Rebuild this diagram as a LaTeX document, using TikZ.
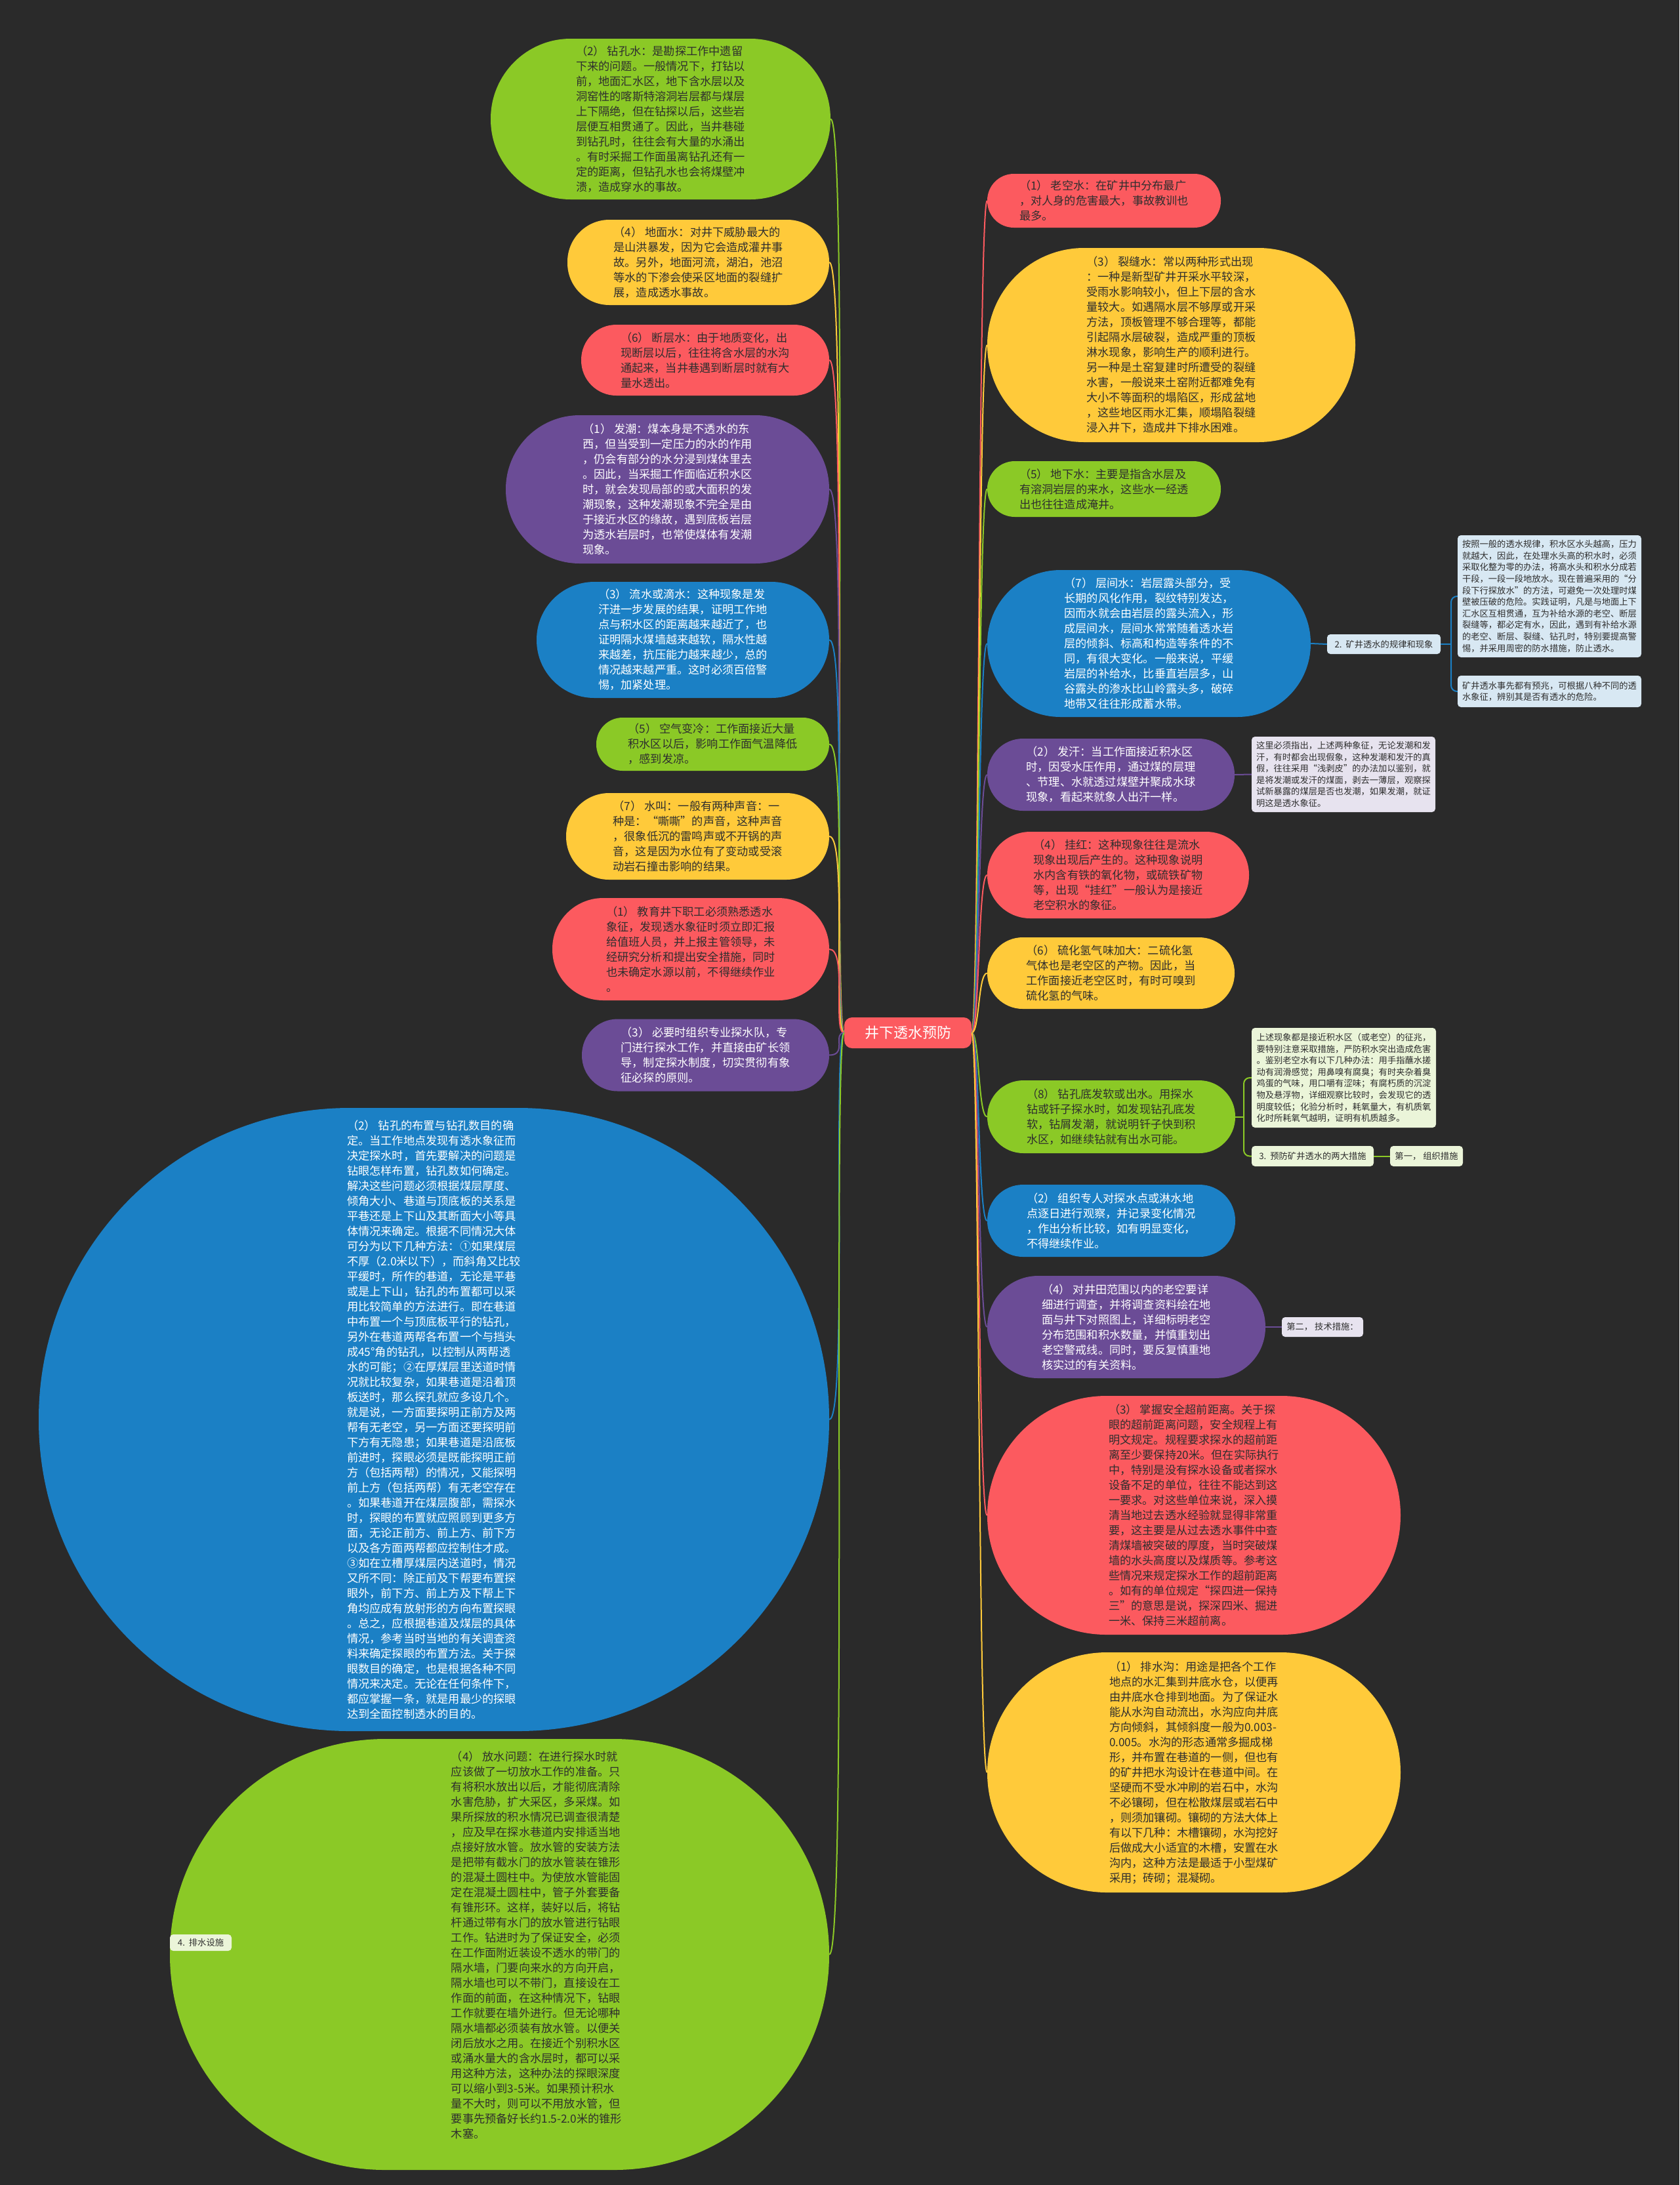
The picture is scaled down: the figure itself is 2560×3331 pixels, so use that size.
\documentclass[tikz,border=0pt]{standalone}
\usepackage{fontspec}
\setmainfont{Noto Sans CJK SC}
\definecolor{bg}{HTML}{2A2A2A}
\definecolor{cgreen}{HTML}{8BC926}
\definecolor{cyellow}{HTML}{FFCA3A}
\definecolor{cred}{HTML}{FC5A5F}
\definecolor{cpurple}{HTML}{6B4C96}
\definecolor{cblue}{HTML}{1B80C5}
\definecolor{dtext}{HTML}{2E2E2E}
\definecolor{nblue}{HTML}{D8E8F3}
\definecolor{npurple}{HTML}{E7E3EF}
\definecolor{ngreen}{HTML}{EBF5D9}
\tikzset{
  bub/.style={rectangle, draw=none, inner sep=0pt},
  txt/.style={align=left, font=\fontsize{17.2}{23}\selectfont, inner sep=0pt},
  ntxt/.style={align=left, font=\fontsize{13.3}{17.6}\selectfont, inner sep=0pt, text=dtext},
  conn/.style={line width=2pt},
  lab/.style={rectangle, rounded corners=5pt, inner sep=0pt, font=\fontsize{13.3}{17.6}\selectfont, text=dtext},
}
\begin{document}
\begin{tikzpicture}[x=1pt,y=-1pt]
\fill[bg] (0,0) rectangle (2560,3331);
\useasboundingbox (0,0) rectangle (2560,3331);

% ---------- centre ----------
\node[bub, fill=cred, minimum width=194pt, minimum height=47pt, rounded corners=12pt] (ctr) at (1384,1574.5) {};
\node[inner sep=0pt, text=white, font=\fontsize{22}{26}\selectfont] (ctrt) at (ctr) {井下透水预防};

% ---------- left column ----------
\node[bub, fill=cgreen, minimum width=518pt, minimum height=245pt, rounded corners=122pt] (L1) at (1007,181.5) {};
\node[txt, text=dtext] (L1t) at (L1) {（2） 钻孔水：是勘探工作中遗留\\下来的问题。一般情况下，打钻以\\前，地面汇水区，地下含水层以及\\洞窑性的喀斯特溶洞岩层都与煤层\\上下隔绝，但在钻探以后，这些岩\\层便互相贯通了。因此，当井巷碰\\到钻孔时，往往会有大量的水涌出\\。有时采掘工作面虽离钻孔还有一\\定的距离，但钻孔水也会将煤壁冲\\溃，造成穿水的事故。};

\node[bub, fill=cyellow, minimum width=399pt, minimum height=130pt, rounded corners=64pt] (L2) at (1064.5,400) {};
\node[txt, text=dtext] (L2t) at (L2) {（4） 地面水：对井下威胁最大的\\是山洪暴发，因为它会造成灌井事\\故。另外，地面河流，湖泊，池沼\\等水的下渗会使采区地面的裂缝扩\\展，造成透水事故。};

\node[bub, fill=cred, minimum width=378pt, minimum height=108pt, rounded corners=53.5pt] (L3) at (1075,549) {};
\node[txt, text=dtext] (L3t) at (L3) {（6） 断层水：由于地质变化，出\\现断层以后，往往将含水层的水沟\\通起来，当井巷遇到断层时就有大\\量水透出。};

\node[bub, fill=cpurple, minimum width=493pt, minimum height=226pt, rounded corners=112.5pt] (L4) at (1017.5,746) {};
\node[txt, text=white] (L4t) at (L4) {（1） 发潮：煤本身是不透水的东\\西，但当受到一定压力的水的作用\\，仍会有部分的水分浸到煤体里去\\。因此，当采掘工作面临近积水区\\时，就会发现局部的或大面积的发\\潮现象，这种发潮现象不完全是由\\于接近水区的缘故，遇到底板岩层\\为透水岩层时，也常使煤体有发潮\\现象。};

\node[bub, fill=cblue, minimum width=446pt, minimum height=177pt, rounded corners=88pt] (L5) at (1041,975.5) {};
\node[txt, text=white] (L5t) at (L5) {（3） 流水或滴水：这种现象是发\\汗进一步发展的结果，证明工作地\\点与积水区的距离越来越近了，也\\证明隔水煤墙越来越软，隔水性越\\来越差，抗压能力越来越少，总的\\情况越来越严重。这时必须百倍警\\惕，加紧处理。};

\node[bub, fill=cgreen, minimum width=355pt, minimum height=81pt, rounded corners=40pt] (L6) at (1086.5,1134.5) {};
\node[txt, text=dtext] (L6t) at (L6) {（5） 空气变冷：工作面接近大量\\积水区以后，影响工作面气温降低\\，感到发凉。};

\node[bub, fill=cyellow, minimum width=401pt, minimum height=132pt, rounded corners=65.5pt] (L7) at (1063.5,1275) {};
\node[txt, text=dtext] (L7t) at (L7) {（7） 水叫：一般有两种声音：一\\种是：“嘶嘶”的声音，这种声音\\，很象低沉的雷鸣声或不开锅的声\\音，这是因为水位有了变动或受滚\\动岩石撞击影响的结果。};

\node[bub, fill=cred, minimum width=422pt, minimum height=156pt, rounded corners=77.5pt] (L8) at (1053,1447) {};
\node[txt, text=dtext] (L8t) at (L8) {（1） 教育井下职工必须熟悉透水\\象征，发现透水象征时须立即汇报\\给值班人员，并上报主管领导，未\\经研究分析和提出安全措施，同时\\也未确定水源以前，不得继续作业\\。};

\node[bub, fill=cpurple, minimum width=377pt, minimum height=110pt, rounded corners=54.5pt] (L9) at (1075.5,1608.5) {};
\node[txt, text=white] (L9t) at (L9) {（3） 必要时组织专业探水队，专\\门进行探水工作，并直接由矿长领\\导，制定探水制度，切实贯彻有象\\征必探的原则。};

\node[bub, fill=cblue, minimum width=1205pt, minimum height=950pt, rounded corners=474pt] (L10) at (661.5,2164) {};
\node[txt, text=white] (L10t) at (L10) {（2） 钻孔的布置与钻孔数目的确\\定。当工作地点发现有透水象征而\\决定探水时，首先要解决的问题是\\钻眼怎样布置，钻孔数如何确定。\\解决这些问题必须根据煤层厚度、\\倾角大小、巷道与顶底板的关系是\\平巷还是上下山及其断面大小等具\\体情况来确定。根据不同情况大体\\可分为以下几种方法：①如果煤层\\不厚（2.0米以下），而斜角又比较\\平缓时，所作的巷道，无论是平巷\\或是上下山，钻孔的布置都可以采\\用比较简单的方法进行。即在巷道\\中布置一个与顶底板平行的钻孔，\\另外在巷道两帮各布置一个与挡头\\成45°角的钻孔，以控制从两帮透\\水的可能；②在厚煤层里送道时情\\况就比较复杂，如果巷道是沿着顶\\板送时，那么探孔就应多设几个。\\就是说，一方面要探明正前方及两\\帮有无老空，另一方面还要探明前\\下方有无隐患；如果巷道是沿底板\\前进时，探眼必须是既能探明正前\\方（包括两帮）的情况，又能探明\\前上方（包括两帮）有无老空存在\\。如果巷道开在煤层腹部，需探水\\时，探眼的布置就应照顾到更多方\\面，无论正前方、前上方、前下方\\以及各方面两帮都应控制住才成。\\③如在立槽厚煤层内送道时，情况\\又所不同：除正前及下帮要布置探\\眼外，前下方、前上方及下帮上下\\角均应成有放射形的方向布置探眼\\。总之，应根据巷道及煤层的具体\\情况，参考当时当地的有关调查资\\料来确定探眼的布置方法。关于探\\眼数目的确定，也是根据各种不同\\情况来决定。无论在任何条件下，\\都应掌握一条，就是用最少的探眼\\达到全面控制透水的目的。};

\node[bub, fill=cgreen, minimum width=1005pt, minimum height=657pt, rounded corners=328pt] (L11) at (761.5,2979.5) {};
\node[txt, text=dtext] (L11t) at (818,2965) {（4） 放水问题：在进行探水时就\\应该做了一切放水工作的准备。只\\有将积水放出以后，才能彻底清除\\水害危胁，扩大采区，多采煤。如\\果所探放的积水情况已调查很清楚\\，应及早在探水巷道内安排适当地\\点接好放水管。放水管的安装方法\\是把带有截水门的放水管装在锥形\\的混凝土圆柱中。为使放水管能固\\定在混凝土圆柱中，管子外套要备\\有锥形环。这样，装好以后，将钻\\杆通过带有水门的放水管进行钻眼\\工作。钻进时为了保证安全，必须\\在工作面附近装设不透水的带门的\\隔水墙，门要向来水的方向开启，\\隔水墙也可以不带门，直接设在工\\作面的前面，在这种情况下，钻眼\\工作就要在墙外进行。但无论哪种\\隔水墙都必须装有放水管。以便关\\闭后放水之用。在接近个别积水区\\或涌水量大的含水层时，都可以采\\用这种方法，这种办法的探眼深度\\可以缩小到3-5米。如果预计积水\\量不大时，则可以不用放水管，但\\要事先预备好长约1.5-2.0米的锥形\\木塞。};

\node[lab, fill=ngreen, minimum width=94pt, minimum height=25pt] (lab4) at (306,2961.5) {4.\ \ 排水设施};

% ---------- right column ----------
\node[bub, fill=cred, minimum width=356pt, minimum height=82pt, rounded corners=40.5pt] (R1) at (1683,306) {};
\node[txt, text=dtext] (R1t) at (R1) {（1） 老空水：在矿井中分布最广\\，对人身的危害最大，事故教训也\\最多。};

\node[bub, fill=cyellow, minimum width=561pt, minimum height=296pt, rounded corners=147.5pt] (R2) at (1785.5,526) {};
\node[txt, text=dtext] (R2t) at (R2) {（3） 裂缝水：常以两种形式出现\\：一种是新型矿井开采水平较深，\\受雨水影响较小，但上下层的含水\\量较大。如遇隔水层不够厚或开采\\方法，顶板管理不够合理等，都能\\引起隔水层破裂，造成严重的顶板\\淋水现象，影响生产的顺利进行。\\另一种是土窑复建时所遭受的裂缝\\水害，一般说来土窑附近都难免有\\大小不等面积的塌陷区，形成盆地\\，这些地区雨水汇集，顺塌陷裂缝\\浸入井下，造成井下排水困难。};

\node[bub, fill=cgreen, minimum width=356pt, minimum height=85pt, rounded corners=42pt] (R3) at (1683,745.5) {};
\node[txt, text=dtext] (R3t) at (R3) {（5） 地下水：主要是指含水层及\\有溶洞岩层的来水，这些水一经透\\出也往往造成淹井。};

\node[bub, fill=cblue, minimum width=493pt, minimum height=224pt, rounded corners=111.5pt] (R4) at (1751.5,981) {};
\node[txt, text=white] (R4t) at (R4) {（7） 层间水：岩层露头部分，受\\长期的风化作用，裂纹特别发达，\\因而水就会由岩层的露头流入，形\\成层间水，层间水常常随着透水岩\\层的倾斜、标高和构造等条件的不\\同，有很大变化。一般来说，平缓\\岩层的补给水，比垂直岩层多，山\\谷露头的渗水比山岭露头多，破碎\\地带又往往形成蓄水带。};

\node[lab, fill=nblue, minimum width=173pt, minimum height=30pt] (lab2) at (2109.5,982) {2.\ \ 矿井透水的规律和现象};
\node[lab, fill=nblue, minimum width=280pt, minimum height=186pt] (nA) at (2362,909) {};
\node[ntxt] (nAt) at (nA) {按照一般的透水规律，积水区水头越高，压力\\就越大，因此，在处理水头高的积水时，必须\\采取化整为零的办法，将高水头和积水分成若\\干段，一段一段地放水。现在普遍采用的“分\\段下行探放水”的方法，可避免一次处理时煤\\壁被压破的危险。实践证明，凡是与地面上下\\汇水区互相贯通，互为补给水源的老空、断层\\裂缝等，都必定有水，因此，遇到有补给水源\\的老空、断层、裂缝、钻孔时，特别要提高警\\惕，并采用周密的防水措施，防止透水。};
\node[lab, fill=nblue, minimum width=280pt, minimum height=48pt] (nB) at (2362,1054) {};
\node[ntxt] (nBt) at (nB) {矿井透水事先都有预兆，可根据八种不同的透\\水象征，辨别其是否有透水的危险。};

\node[bub, fill=cpurple, minimum width=377pt, minimum height=110pt, rounded corners=54.5pt] (R5) at (1693.5,1181) {};
\node[txt, text=white] (R5t) at (R5) {（2） 发汗：当工作面接近积水区\\时，因受水压作用，通过煤的层理\\、节理、水就透过煤壁并聚成水球\\现象，看起来就象人出汗一样。};
\node[lab, fill=npurple, minimum width=280pt, minimum height=115pt] (nP) at (2048,1180.5) {};
\node[ntxt] (nPt) at (nP) {这里必须指出，上述两种象征，无论发潮和发\\汗，有时都会出现假象，这种发潮和发汗的真\\假，往往采用“浅剥皮”的办法加以鉴别，就\\是将发潮或发汗的煤面，剥去一薄层，观察探\\试新暴露的煤层是否也发潮，如果发潮，就证\\明这是透水象征。};

\node[bub, fill=cred, minimum width=399pt, minimum height=132pt, rounded corners=65.5pt] (R6) at (1704.5,1334) {};
\node[txt, text=dtext] (R6t) at (R6) {（4） 挂红：这种现象往往是流水\\现象出现后产生的。这种现象说明\\水内含有铁的氧化物，或硫铁矿物\\等，出现“挂红”一般认为是接近\\老空积水的象征。};

\node[bub, fill=cyellow, minimum width=377pt, minimum height=109pt, rounded corners=54pt] (R7) at (1693.5,1483.5) {};
\node[txt, text=dtext] (R7t) at (R7) {（6） 硫化氢气味加大：二硫化氢\\气体也是老空区的产物。因此，当\\工作面接近老空区时，有时可嗅到\\硫化氢的气味。};

\node[bub, fill=cgreen, minimum width=378pt, minimum height=111pt, rounded corners=55pt] (R8) at (1694,1702.5) {};
\node[txt, text=dtext] (R8t) at (R8) {（8） 钻孔底发软或出水。用探水\\钻或钎子探水时，如发现钻孔底发\\软，钻屑发潮，就说明钎子快到积\\水区，如继续钻就有出水可能。};
\node[lab, fill=ngreen, minimum width=281pt, minimum height=152pt] (nG) at (2048.5,1643) {};
\node[ntxt] (nGt) at (nG) {上述现象都是接近积水区（或老空）的征兆，\\要特别注意采取措施，严防积水突出造成危害\\。鉴别老空水有以下几种办法：用手指蘸水搓\\动有润滑感觉；用鼻嗅有腐臭；有时夹杂着臭\\鸡蛋的气味，用口嚼有涩味；有腐朽质的沉淀\\物及悬浮物，详细观察比较时，会发现它的透\\明度较低；化验分析时，耗氧量大，有机质氧\\化时所耗氧气越明，证明有机质越多。};
\node[lab, fill=ngreen, minimum width=186pt, minimum height=31pt] (lab3) at (2001,1762.5) {3.\ \ 预防矿井透水的两大措施};
\node[lab, fill=ngreen, minimum width=111pt, minimum height=31pt] (lab31) at (2174.5,1762.5) {第一，\ 组织措施};

\node[bub, fill=cblue, minimum width=378pt, minimum height=110pt, rounded corners=54.5pt] (R9) at (1694,1861) {};
\node[txt, text=white] (R9t) at (R9) {（2） 组织专人对探水点或淋水地\\点逐日进行观察，并记录变化情况\\，作出分析比较，如有明显变化，\\不得继续作业。};

\node[bub, fill=cpurple, minimum width=424pt, minimum height=156pt, rounded corners=77.5pt] (R10) at (1717,2023) {};
\node[txt, text=white] (R10t) at (R10) {（4） 对井田范围以内的老空要详\\细进行调查，并将调查资料绘在地\\面与井下对照图上，详细标明老空\\分布范围和积水数量，并慎重划出\\老空警戒线。同时，要反复慎重地\\核实过的有关资料。};
\node[lab, fill=npurple, minimum width=124pt, minimum height=30pt] (lab32) at (2016,2023) {第二，\ 技术措施：};

\node[bub, fill=cred, minimum width=630pt, minimum height=364pt, rounded corners=181.5pt] (R11) at (1820,2310) {};
\node[txt, text=dtext] (R11t) at (R11) {（3） 掌握安全超前距离。关于探\\眼的超前距离问题，安全规程上有\\明文规定。规程要求探水的超前距\\离至少要保持20米。但在实际执行\\中，特别是没有探水设备或者探水\\设备不足的单位，往往不能达到这\\一要求。对这些单位来说，深入摸\\清当地过去透水经验就显得非常重\\要，这主要是从过去透水事件中查\\清煤墙被突破的厚度，当时突破煤\\墙的水头高度以及煤质等。参考这\\些情况来规定探水工作的超前距离\\。如有的单位规定“探四进一保持\\三”的意思是说，探深四米、掘进\\一米、保持三米超前离。};

\node[bub, fill=cyellow, minimum width=630pt, minimum height=366pt, rounded corners=182.5pt] (R12) at (1820,2702) {};
\node[txt, text=dtext] (R12t) at (R12) {（1） 排水沟：用途是把各个工作\\地点的水汇集到井底水仓，以便再\\由井底水仓排到地面。为了保证水\\能从水沟自动流出，水沟应向井底\\方向倾斜，其倾斜度一般为0.003-\\0.005。水沟的形态通常多掘成梯\\形，并布置在巷道的一侧，但也有\\的矿井把水沟设计在巷道中间。在\\坚硬而不受水冲刷的岩石中，水沟\\不必镶砌，但在松散煤层或岩石中\\，则须加镶砌。镶砌的方法大体上\\有以下几种：木槽镶砌，水沟挖好\\后做成大小适宜的木槽，安置在水\\沟内，这种方法是最适于小型煤矿\\采用；砖砌；混凝砌。};

% ---------- connectors from centre ----------
\foreach \n/\c in {L1/cgreen,L2/cyellow,L3/cred,L4/cpurple,L5/cblue,L6/cgreen,L7/cyellow,L8/cred,L9/cpurple,L10/cblue,L11/cgreen}{
  \draw[conn, draw=\c] (ctr.west) .. controls +(-18,0) and +(28,0) .. (\n.east);
}
\foreach \n/\c in {R1/cred,R2/cyellow,R3/cgreen,R4/cblue,R5/cpurple,R6/cred,R7/cyellow,R8/cgreen,R9/cblue,R10/cpurple,R11/cred,R12/cyellow}{
  \draw[conn, draw=\c] (ctr.east) .. controls +(12,0) and +(-14,0) .. (\n.west);
}

% ---------- secondary connectors ----------
\draw[conn, draw=cblue] (R4.east) -- (lab2.west);
\coordinate (sp2) at (2212,982);
\draw[conn, draw=cblue] (lab2.east) -- (sp2);
\draw[conn, draw=cblue, rounded corners=9pt] (nA.west) -| (sp2) |- (nB.west);
\draw[conn, draw=cpurple] (R5.east) -- (nP.west);
\coordinate (sp3) at (1896,1702.5);
\draw[conn, draw=cgreen] (R8.east) -- (sp3);
\draw[conn, draw=cgreen, rounded corners=9pt] (nG.west) -| (sp3) |- (lab3.west);
\draw[conn, draw=cgreen] (lab3.east) -- (lab31.west);
\draw[conn, draw=cpurple] (R10.east) -- (lab32.west);
\end{tikzpicture}
\end{document}
